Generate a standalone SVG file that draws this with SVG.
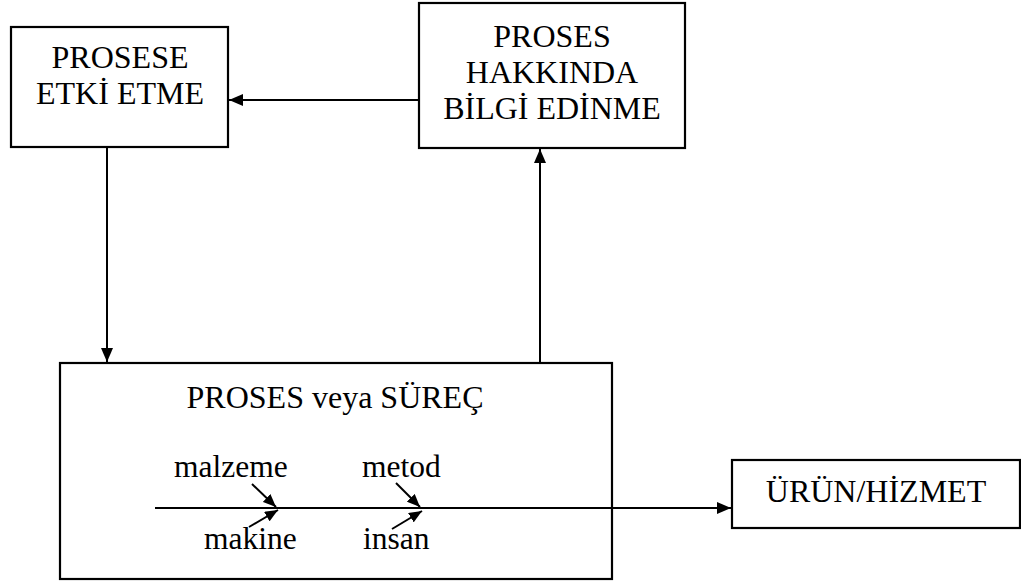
<svg xmlns="http://www.w3.org/2000/svg" width="1021" height="585" viewBox="0 0 1021 585">
<defs>
<style>
.box{fill:#fff;stroke:#000;stroke-width:2.2}
.t{font-family:"Liberation Serif","Times New Roman",serif;font-size:32px;fill:#000;text-anchor:middle}
.s{font-family:"Liberation Serif","Times New Roman",serif;font-size:31.5px;fill:#000}
.ln{stroke:#000;stroke-width:2;fill:none}
</style>
<marker id="ah" viewBox="0 0 14 12" refX="14" refY="6" markerWidth="14" markerHeight="12" markerUnits="userSpaceOnUse" orient="auto">
<path d="M0,0 L14,6 L0,12 Z" fill="#000"/>
</marker>
<marker id="sh" viewBox="0 0 13 11" refX="13" refY="5.5" markerWidth="13" markerHeight="11" markerUnits="userSpaceOnUse" orient="auto">
<path d="M0,0 L13,5.5 L0,11 Z" fill="#000"/>
</marker>
</defs>
<rect width="1021" height="585" fill="#fff"/>
<g id="etki">
<rect class="box" x="11" y="27" width="217" height="120"/>
<text class="t" x="120" y="68">PROSESE</text>
<text class="t" x="120" y="104">ETKİ ETME</text>
</g>
<g id="bilgi">
<rect class="box" x="419" y="3" width="266" height="145"/>
<text class="t" x="552" y="47">PROSES</text>
<text class="t" x="552" y="83">HAKKINDA</text>
<text class="t" x="552" y="119">BİLGİ EDİNME</text>
</g>
<g id="proses">
<rect class="box" x="60" y="363" width="552" height="216"/>
<text class="t" x="335" y="408">PROSES veya SÜREÇ</text>
<text class="s" x="174" y="477">malzeme</text>
<text class="s" x="362" y="477">metod</text>
<text class="s" x="204" y="549">makine</text>
<text class="s" x="363" y="549">insan</text>
</g>
<g id="urun">
<rect class="box" x="732" y="460" width="288" height="68"/>
<text class="t" x="876" y="502">ÜRÜN/HİZMET</text>
</g>
<g id="connectors">
<line class="ln" x1="419" y1="100" x2="229" y2="100" marker-end="url(#ah)"/>
<line class="ln" x1="107" y1="147" x2="107" y2="362" marker-end="url(#ah)"/>
<line class="ln" x1="540" y1="363" x2="540" y2="149" marker-end="url(#ah)"/>
<line class="ln" x1="155" y1="508" x2="731" y2="508" marker-end="url(#ah)"/>
<line class="ln" x1="252" y1="484" x2="276" y2="507" marker-end="url(#sh)"/>
<line class="ln" x1="249" y1="527" x2="278" y2="510" marker-end="url(#sh)"/>
<line class="ln" x1="396" y1="483" x2="420" y2="507" marker-end="url(#sh)"/>
<line class="ln" x1="392" y1="529" x2="422" y2="511" marker-end="url(#sh)"/>
</g>
</svg>
